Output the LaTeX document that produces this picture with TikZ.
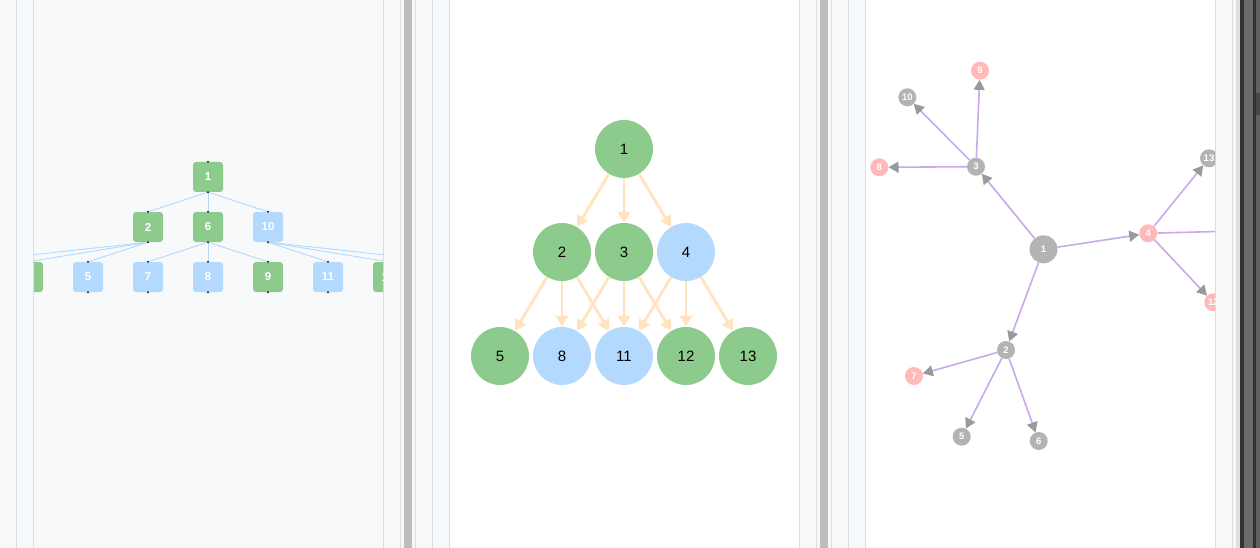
\documentclass[tikz,border=0pt]{standalone}
\usepackage{fontspec}
\setmainfont{Liberation Sans}
\usetikzlibrary{arrows.meta}
\definecolor{bgc}{HTML}{F8F9FB}
\definecolor{linec}{HTML}{DADDE2}
\definecolor{barc}{HTML}{BDBDBD}
\definecolor{gnode}{HTML}{8DCB8D}
\definecolor{bnode}{HTML}{B3D9FF}
\definecolor{orng}{HTML}{FFE4BF}
\definecolor{purp}{HTML}{C7A9EC}
\definecolor{gnd}{HTML}{B3B3B3}
\definecolor{pnk}{HTML}{FFB9B9}
\definecolor{ahead}{HTML}{9A9A9A}
\definecolor{darkbar}{HTML}{333333}
\definecolor{midbar}{HTML}{6B6B6B}
\begin{document}
\begin{tikzpicture}[x=1pt,y=-1pt,
  sep/.style={draw=linec,line width=1pt},
  tbox/.style={rectangle,rounded corners=3pt,minimum size=30pt,inner sep=0pt,text=white,font=\bfseries\fontsize{11.5}{11.5}\selectfont},
  gbox/.style={tbox,fill=gnode},
  bbox/.style={tbox,fill=bnode},
  tedge/.style={draw=bnode,line width=0.9pt},
  anc/.style={fill=black!85},
  cnode/.style={circle,minimum size=58pt,inner sep=0pt,text=black,font=\fontsize{15}{15}\selectfont},
  gcirc/.style={cnode,fill=gnode},
  bcirc/.style={cnode,fill=bnode},
  oedge/.style={draw=orng,line width=2.8pt,-{Triangle[length=11pt,width=12pt]}},
  fnode/.style={circle,minimum size=18pt,inner sep=0pt,text=white,font=\bfseries\fontsize{9.5}{9.5}\selectfont},
  gdot/.style={fnode,fill=gnd},
  pdot/.style={fnode,fill=pnk},
  pedge/.style={draw=purp,line width=1.6pt,-{Triangle[length=10pt,width=11pt,color=ahead]}}
]
% background and frame
\fill[bgc] (0,0) rectangle (1260,548);
\useasboundingbox (0,0) rectangle (1260,548);
\fill[white] (449,0) rectangle (799.5,548);
\fill[white] (865,0) rectangle (1215.5,548);
\foreach \xx in {16.5,33.5,383.3,400.5,415,432.3,449,799.5,816,831.7,848.3,865,1215.5,1232.5}
  \draw[sep] (\xx,0) -- (\xx,548);
\fill[barc] (404,0) rectangle (412,548);
\fill[barc] (820,0) rectangle (828,548);
\fill[black!12] (1236,0) rectangle (1240,548);
\fill[darkbar] (1240,0) rectangle (1244,548);
\fill[midbar] (1244,0) rectangle (1252.5,548);
\fill[darkbar] (1252.5,0) rectangle (1255.5,548);
\fill[black!62] (1255.5,0) rectangle (1260,548);
\fill[black!72] (1255.5,93) rectangle (1260,115);

% ---------- panel 1: tree of boxes ----------
\begin{scope}
\clip (34,0) rectangle (383,548);
\node[gbox] (a1) at (208,177) {1};
\node[gbox] (a2) at (148,227) {2};
\node[gbox] (a6) at (208,227) {6};
\node[bbox] (a10) at (268,227) {10};
\node[bbox] (a3) at (-32,277) {};
\node[gbox] (a4) at (28,277) {4};
\node[bbox] (a5) at (88,277) {5};
\node[bbox] (a7) at (148,277) {7};
\node[bbox] (a8) at (208,277) {8};
\node[gbox] (a9) at (268,277) {9};
\node[bbox] (a11) at (328,277) {11};
\node[gbox] (a12) at (388,277) {12};
\node[bbox] (a13) at (448,277) {};
\foreach \p/\c in {a1/a2,a1/a6,a1/a10,a2/a3,a2/a4,a2/a5,a6/a7,a6/a8,a6/a9,a10/a11,a10/a12,a10/a13}
  \draw[tedge] (\p.south) -- (\c.north);
\foreach \n in {a1,a2,a6,a10,a3,a4,a5,a7,a8,a9,a11,a12,a13}{
  \fill[anc] (\n.north) circle (1.1);
  \fill[anc] (\n.south) circle (1.1);
}
\end{scope}

% ---------- panel 2: layered circles ----------
\node[gcirc] (b1) at (624,149) {1};
\node[gcirc] (b2) at (562,252) {2};
\node[gcirc] (b3) at (624,252) {3};
\node[bcirc] (b4) at (686,252) {4};
\node[gcirc] (b5) at (500,356) {5};
\node[bcirc] (b8) at (562,356) {8};
\node[bcirc] (b11) at (624,356) {11};
\node[gcirc] (b12) at (686,356) {12};
\node[gcirc] (b13) at (748,356) {13};
\foreach \p/\c in {b1/b2,b1/b3,b1/b4,b2/b5,b2/b8,b2/b11,b3/b8,b3/b11,b3/b12,b4/b11,b4/b12,b4/b13}
  \draw[oedge] (\p) -- (\c);

% ---------- panel 3: radial graph ----------
\begin{scope}
\clip (865.5,0) rectangle (1215,548);
\node[fnode,fill=gnd,minimum size=28pt,font=\bfseries\fontsize{9.5}{9.5}\selectfont] (c1) at (1043.5,249.3) {1};
\node[gdot] (c3) at (976,166.7) {3};
\node[pdot] (c4) at (1148.3,233.3) {4};
\node[gdot] (c2) at (1006,350) {2};
\node[pdot] (c9) at (980,70.7) {9};
\node[gdot] (c10) at (907.3,97.3) {10};
\node[pdot] (c8) at (879.3,167.3) {8};
\node[pdot] (c7) at (914,376) {7};
\node[gdot] (c5) at (961.7,436.7) {5};
\node[gdot] (c6) at (1038.7,441) {6};
\node[gdot] (c13) at (1209,158.3) {13};
\node[pdot] (c12) at (1213.3,302.3) {12};
\node[gdot] (c11) at (1236,231) {};
\foreach \p/\c in {c1/c3,c1/c4,c1/c2,c3/c9,c3/c10,c3/c8,c2/c7,c2/c5,c2/c6,c4/c13,c4/c12,c4/c11}
  \draw[pedge] (\p) -- (\c);
\end{scope}
\end{tikzpicture}
\end{document}
